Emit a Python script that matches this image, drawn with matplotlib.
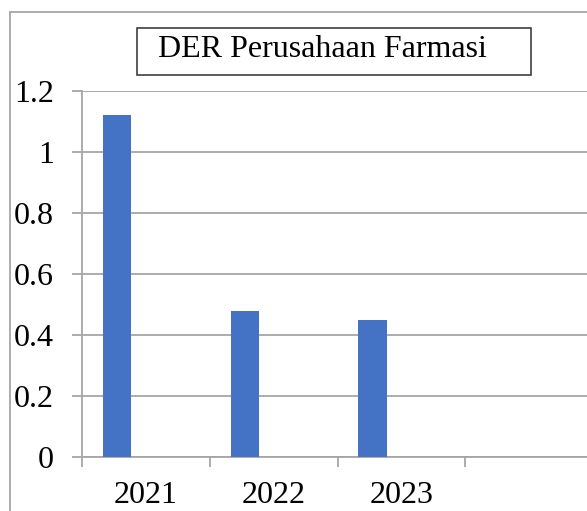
import matplotlib.pyplot as plt
from matplotlib.patches import Rectangle
from matplotlib.lines import Line2D

years = ['2021', '2022', '2023']
der = [1.12, 0.48, 0.45]
yticks = [0, 0.2, 0.4, 0.6, 0.8, 1, 1.2]
ytick_labels = ['0', '0.2', '0.4', '0.6', '0.8', '1', '1.2']
title = 'DER Perusahaan Farmasi'

W, H = 587, 511
plt.rcParams['font.family'] = ['Liberation Serif', 'DejaVu Serif']
grey = '#a6a6a6'

fig = plt.figure(figsize=(W / 100, H / 100), dpi=100)

# plot area runs past the right edge, like the cropped Excel chart
ax = fig.add_axes([82 / W, 1 - 457 / H, (593 - 82) / W, (457 - 91) / H])
pos = [i + 0.274 for i in range(len(years))]
ax.bar(pos, der, width=0.22, color='#4472C4', zorder=3)

ax.set_xlim(0, 4)
ax.set_ylim(0, 1.2)
ax.set_yticks(yticks)
ax.set_yticklabels(ytick_labels)
ax.set_xticks([0, 1, 2, 3, 4])
ax.set_xticklabels([])
ax.set_xticks([i + 0.5 for i in range(len(years))], minor=True)
ax.set_xticklabels(years, minor=True)

ax.grid(axis='y', color=grey, linewidth=1.3, zorder=0)
for s in ['top', 'right']:
    ax.spines[s].set_visible(False)
for s in ['left', 'bottom']:
    ax.spines[s].set_color(grey)
    ax.spines[s].set_linewidth(1.3)
ax.tick_params(axis='y', direction='out', length=7.2, width=1.3, color=grey,
               labelsize=23, pad=13)
ax.tick_params(axis='x', which='major', direction='out', length=7.2, width=1.3,
               color=grey)
ax.tick_params(axis='x', which='minor', length=0, labelsize=23, pad=17)

# outer chart border (only left and top visible)
fig.add_artist(Line2D([10 / W, 10 / W], [0, 1 - 12 / H], color=grey, linewidth=1.3))
fig.add_artist(Line2D([10 / W, 1], [1 - 12 / H, 1 - 12 / H], color=grey, linewidth=1.3))

# title box
fig.add_artist(Rectangle((137 / W, 1 - 75 / H), (531 - 137) / W, (75 - 28) / H,
                         transform=fig.transFigure, fill=False,
                         edgecolor='#404040', linewidth=1.2))
fig.text(158 / W, 1 - 57 / H, title, ha='left', va='baseline', fontsize=23)

fig.savefig('out.png', dpi=100)
